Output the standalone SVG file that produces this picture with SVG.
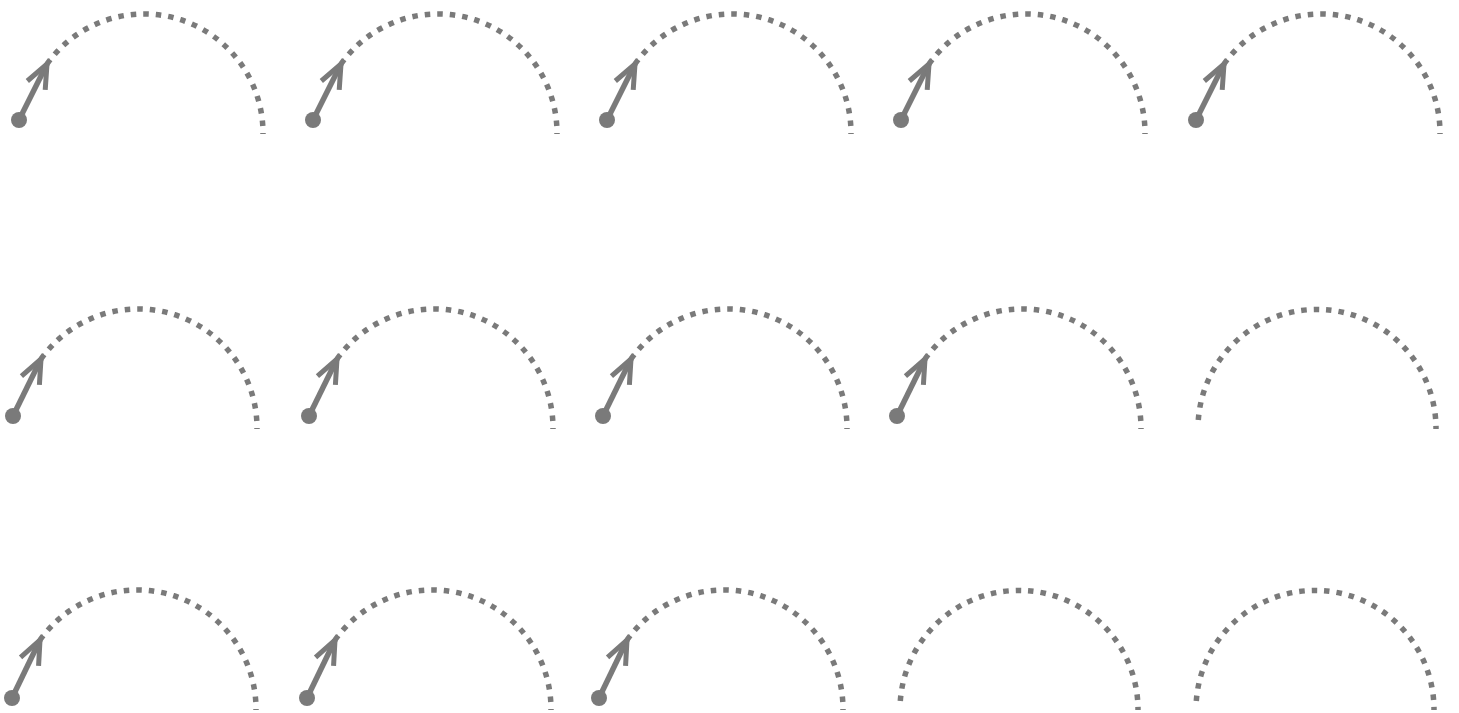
<svg xmlns="http://www.w3.org/2000/svg" xmlns:xlink="http://www.w3.org/1999/xlink" width="1459" height="713" viewBox="0 0 1459 713">
<style>
.arc{fill:none;stroke:#7a7a7a;stroke-width:5.5;stroke-dasharray:5.5 7}
.shaft{fill:none;stroke:#7a7a7a;stroke-width:5.5}
.dot{fill:#7a7a7a}
.head{fill:none;stroke:#7a7a7a;stroke-width:5;stroke-linejoin:miter}
</style>
<defs>
<marker id="chev" markerUnits="userSpaceOnUse" orient="auto" markerWidth="40" markerHeight="30" refX="0" refY="0" viewBox="-30 -15 40 30" overflow="visible">
<path class="head" d="M-24,-10 L0,0 L-24,10"/>
</marker>
<g id="armArc">
<path class="arc" d="M-97,-70 A119,119 0 0 1 119,0"/>
</g>
<g id="armFull">
<path class="arc" d="M-118.7,-9 A119,119 0 0 1 119,0"/>
</g>
</defs>
<rect width="1459" height="713" fill="#ffffff"/>
<g id="connectors">
<g transform="translate(144,134)"><line class="shaft" x1="-125" y1="-14" x2="-97" y2="-70" marker-end="url(#chev)"/></g>
<g transform="translate(438,134)"><line class="shaft" x1="-125" y1="-14" x2="-97" y2="-70" marker-end="url(#chev)"/></g>
<g transform="translate(732,134)"><line class="shaft" x1="-125" y1="-14" x2="-97" y2="-70" marker-end="url(#chev)"/></g>
<g transform="translate(1026,134)"><line class="shaft" x1="-125" y1="-14" x2="-97" y2="-70" marker-end="url(#chev)"/></g>
<g transform="translate(1321,134)"><line class="shaft" x1="-125" y1="-14" x2="-97" y2="-70" marker-end="url(#chev)"/></g>
<g transform="translate(138,429)"><line class="shaft" x1="-125" y1="-13" x2="-97" y2="-70" marker-end="url(#chev)"/></g>
<g transform="translate(434,429)"><line class="shaft" x1="-125" y1="-13" x2="-97" y2="-70" marker-end="url(#chev)"/></g>
<g transform="translate(728,429)"><line class="shaft" x1="-125" y1="-13" x2="-97" y2="-70" marker-end="url(#chev)"/></g>
<g transform="translate(1022,429)"><line class="shaft" x1="-125" y1="-13" x2="-97" y2="-70" marker-end="url(#chev)"/></g>
<g transform="translate(137,710)"><line class="shaft" x1="-125" y1="-12" x2="-97" y2="-70" marker-end="url(#chev)"/></g>
<g transform="translate(432,710)"><line class="shaft" x1="-125" y1="-12" x2="-97" y2="-70" marker-end="url(#chev)"/></g>
<g transform="translate(724,710)"><line class="shaft" x1="-125" y1="-12" x2="-97" y2="-70" marker-end="url(#chev)"/></g>
</g>
<g id="n1" transform="translate(144,134)"><use xlink:href="#armArc"/><circle class="dot" cx="-125" cy="-14" r="8"/></g>
<g id="n2" transform="translate(438,134)"><use xlink:href="#armArc"/><circle class="dot" cx="-125" cy="-14" r="8"/></g>
<g id="n3" transform="translate(732,134)"><use xlink:href="#armArc"/><circle class="dot" cx="-125" cy="-14" r="8"/></g>
<g id="n4" transform="translate(1026,134)"><use xlink:href="#armArc"/><circle class="dot" cx="-125" cy="-14" r="8"/></g>
<g id="n5" transform="translate(1321,134)"><use xlink:href="#armArc"/><circle class="dot" cx="-125" cy="-14" r="8"/></g>
<g id="n6" transform="translate(138,429)"><use xlink:href="#armArc"/><circle class="dot" cx="-125" cy="-13" r="8"/></g>
<g id="n7" transform="translate(434,429)"><use xlink:href="#armArc"/><circle class="dot" cx="-125" cy="-13" r="8"/></g>
<g id="n8" transform="translate(728,429)"><use xlink:href="#armArc"/><circle class="dot" cx="-125" cy="-13" r="8"/></g>
<g id="n9" transform="translate(1022,429)"><use xlink:href="#armArc"/><circle class="dot" cx="-125" cy="-13" r="8"/></g>
<g id="n10" transform="translate(1317,429)"><use xlink:href="#armFull"/></g>
<g id="n11" transform="translate(137,710)"><use xlink:href="#armArc"/><circle class="dot" cx="-125" cy="-12" r="8"/></g>
<g id="n12" transform="translate(432,710)"><use xlink:href="#armArc"/><circle class="dot" cx="-125" cy="-12" r="8"/></g>
<g id="n13" transform="translate(724,710)"><use xlink:href="#armArc"/><circle class="dot" cx="-125" cy="-12" r="8"/></g>
<g id="n14" transform="translate(1019,710)"><use xlink:href="#armFull"/></g>
<g id="n15" transform="translate(1315,710)"><use xlink:href="#armFull"/></g>
</svg>
